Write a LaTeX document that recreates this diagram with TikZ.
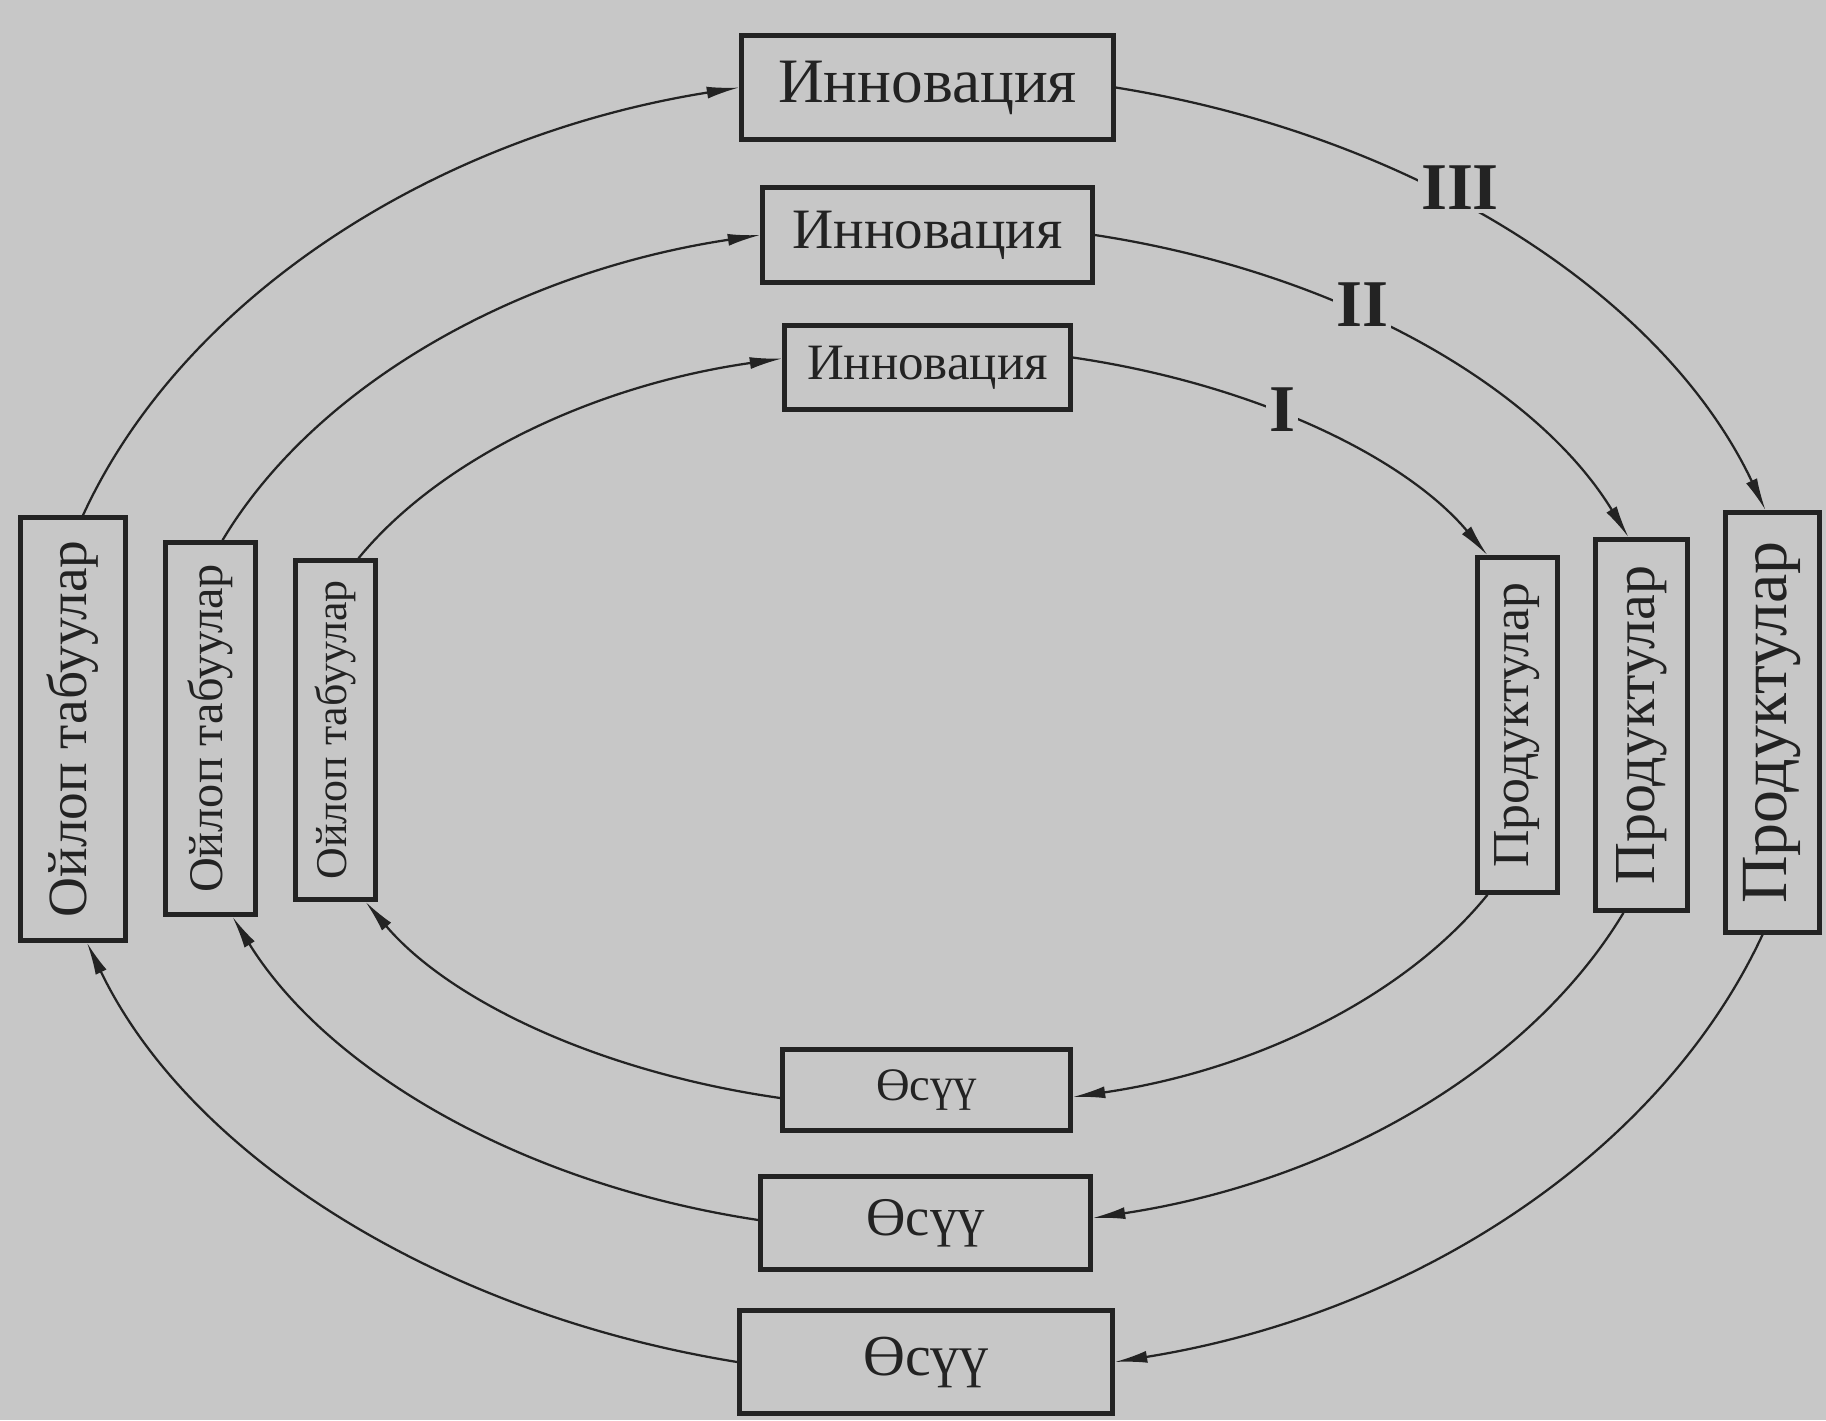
\documentclass[tikz,border=0pt]{standalone}
\usepackage{fontspec}
\setmainfont{Liberation Serif}
\usetikzlibrary{arrows.meta,calc}
\definecolor{bg}{RGB}{199,199,199}
\definecolor{ink}{RGB}{35,35,35}
\begin{document}
\begin{tikzpicture}[x=0.2mm,y=-0.2mm,
 box/.style={draw=ink,line width=0.9mm,inner sep=0pt,text=ink,fill=bg},
 conn/.style={draw=ink,line width=0.45mm,-{Latex[length=6.5mm,width=2.4mm]}},
 num/.style={fill=bg,inner sep=0.6mm,text=ink,font=\fontsize{38}{40}\selectfont\bfseries}]
\path[use as bounding box,fill=bg] (0,0) rectangle (1826,1420);

% top boxes
\node[box,minimum width=74.4mm,minimum height=20.8mm,font=\fontsize{36}{40}\selectfont] (inn3) at (927.5,87.5) {Инновация};
\node[box,minimum width=66mm,minimum height=19mm,font=\fontsize{32.5}{36}\selectfont] (inn2) at (927.5,235) {Инновация};
\node[box,minimum width=57.2mm,minimum height=16.8mm,font=\fontsize{29}{32}\selectfont] (inn1) at (927.5,367.5) {Инновация};
% bottom boxes
\node[box,minimum width=57.6mm,minimum height=16.2mm,font=\fontsize{26.5}{30}\selectfont] (os1) at (926.5,1090) {Өсүү};
\node[box,minimum width=66mm,minimum height=18.6mm,font=\fontsize{31}{34}\selectfont] (os2) at (925.5,1223) {Өсүү};
\node[box,minimum width=74.6mm,minimum height=20.6mm,font=\fontsize{33}{36}\selectfont] (os3) at (926,1362) {Өсүү};
% left boxes
\node[box,minimum width=21mm,minimum height=84.6mm,font=\fontsize{31.5}{34}\selectfont] (oj3) at (73,729) {\rotatebox{90}{Ойлоп табуулар}};
\node[box,minimum width=18mm,minimum height=74.4mm,font=\fontsize{27.5}{30}\selectfont] (oj2) at (210.5,728.5) {\rotatebox{90}{Ойлоп табуулар}};
\node[box,minimum width=16mm,minimum height=67.8mm,font=\fontsize{25}{28}\selectfont] (oj1) at (335.5,730) {\rotatebox{90}{Ойлоп табуулар}};
% right boxes
\node[box,minimum width=16mm,minimum height=67mm,font=\fontsize{29.5}{32}\selectfont] (pr1) at (1517.5,725) {\rotatebox{90}{Продуктулар}};
\node[box,minimum width=18.4mm,minimum height=74.2mm,font=\fontsize{33}{36}\selectfont] (pr2) at (1641.5,725) {\rotatebox{90}{Продуктулар}};
\node[box,minimum width=18.8mm,minimum height=84mm,font=\fontsize{37.5}{40}\selectfont] (pr3) at (1772.5,722.5) {\rotatebox{90}{Продуктулар}};

% outer ring
\draw[conn] ($(oj3.north)+(10,0)$) .. controls +(100,-217.5) and +(-305,48.5) .. (inn3.west);
\draw[conn] (inn3.east) .. controls +(301.6,48.4) and +(-101.5,-214.6) .. ($(pr3.north)+(-7,0)$);
\draw[conn] ($(pr3.south)+(-10,0)$) .. controls +(-100.5,216.1) and +(303.1,-48.7) .. (os3.east);
\draw[conn] (os3.west) .. controls +(-299.3,-48.4) and +(102.3,212.7) .. ($(oj3.south)+(14,0)$);
% middle ring
\draw[conn] ($(oj2.north)+(12,0)$) .. controls +(92.5,-154.8) and +(-244,36.6) .. (inn2.west);
\draw[conn] (inn2.east) .. controls +(241.1,36.8) and +(-93.1,-152.7) .. ($(pr2.north)+(-13,0)$);
\draw[conn] ($(pr2.south)+(-18,0)$) .. controls +(-92.6,154.2) and +(243,-36.8) .. ($(os2.east)+(0,-5)$);
\draw[conn] ($(os2.west)+(0,-3)$) .. controls +(-240.2,-36.4) and +(93.9,151.7) .. ($(oj2.south)+(22,0)$);
% inner ring
\draw[conn] ($(oj1.north)+(23,0)$) .. controls +(83.8,-102.1) and +(-183.6,25.9) .. ($(inn1.west)+(0,-9)$);
\draw[conn] ($(inn1.east)+(0,-10)$) .. controls +(179.4,26.2) and +(-83.7,-99.5) .. ($(pr1.north)+(-30,0)$);
\draw[conn] ($(pr1.south)+(-30,0)$) .. controls +(-82.7,102) and +(182.7,-26.7) .. ($(os1.east)+(0,7)$);
\draw[conn] ($(os1.west)+(0,8)$) .. controls +(-179.9,-25.7) and +(84.5,99.4) .. ($(oj1.south)+(30,0)$);

% ring labels
\node[num] (l3) at (1460,188) {III};
\node[num] (l2) at (1362,305) {II};
\node[num] (l1) at (1282,410) {I};
\end{tikzpicture}
\end{document}
